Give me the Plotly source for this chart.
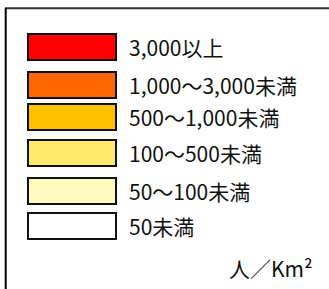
import plotly.graph_objects as go

labels = ["3,000以上", "1,000～3,000未満", "500～1,000未満", "100～500未満", "50～100未満", "50未満"]
colors = ["#FF0000", "#FF6600", "#FFC000", "#FFEB6B", "#FFFBC0", "#FFFFFF"]
unit_label = "人／Km²"

# layout (pixel-based axes)
W, H = 329, 289
row_y = [47.3, 85.2, 117.2, 153.0, 190.5, 226.3]
sw_x0, sw_w, sw_h = 27.5, 88, 26
text_x = 126.5

fig = go.Figure()
fig.add_trace(go.Bar(
    orientation="h",
    y=row_y,
    x=[sw_w] * len(labels),
    base=[sw_x0] * len(labels),
    width=[sw_h] * len(labels),
    marker=dict(color=colors, line=dict(color="#111111", width=2)),
    hoverinfo="skip",
    showlegend=False,
))

for yy, lab in zip(row_y, labels):
    fig.add_annotation(x=text_x, y=yy, text=lab, showarrow=False,
                       xanchor="left", yanchor="middle", xref="x", yref="y",
                       font=dict(family="Noto Sans CJK JP", size=21, color="#111111"))
fig.add_annotation(x=315, y=268, text=unit_label, showarrow=False,
                   xanchor="right", yanchor="middle", xref="x", yref="y",
                   font=dict(family="Noto Sans CJK JP", size=21, color="#111111"))

# frame lines
fig.add_shape(type="line", xref="x", yref="y", x0=5, x1=W, y0=8.3, y1=8.3,
              line=dict(color="#333333", width=2))
fig.add_shape(type="line", xref="x", yref="y", x0=5.7, x1=5.7, y0=8.3, y1=H,
              line=dict(color="#000000", width=2))

fig.update_layout(
    width=W, height=H,
    margin=dict(l=0, r=0, t=0, b=0),
    paper_bgcolor="white", plot_bgcolor="white",
    xaxis=dict(range=[0, W], visible=False, fixedrange=True),
    yaxis=dict(range=[H, 0], visible=False, fixedrange=True),
    bargap=0,
)
fig.write_html("out.html", config={"displayModeBar": False},
               post_script="document.body.style.margin='0';document.body.style.overflow='hidden';")
